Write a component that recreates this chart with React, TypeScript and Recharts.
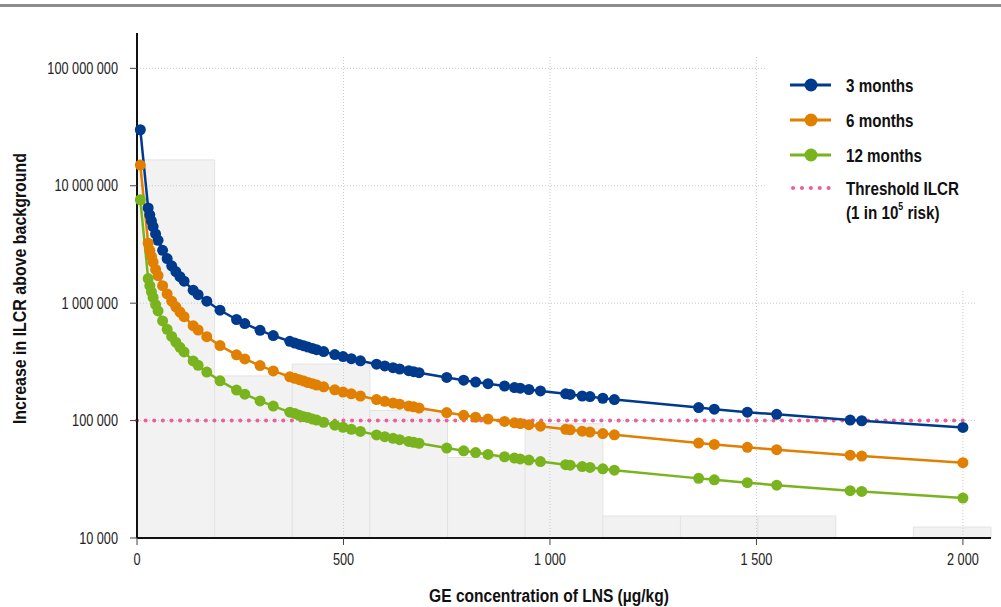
import React from 'react';
import { ComposedChart, Line, XAxis, YAxis, ReferenceLine, ReferenceArea } from 'recharts';

// GE concentration of LNS (µg/kg) at each modelled point
const concentrations = [
  8, 27, 31, 35, 39, 45, 51, 62, 73, 84, 94, 104, 114, 136, 148, 169, 201, 241, 261, 298,
  330, 370, 382, 393, 404, 414, 425, 435, 452, 479, 499, 519, 541, 580, 600, 620, 636, 658,
  670, 683, 750, 791, 820, 850, 890, 914, 928, 949, 977, 1038, 1049, 1078, 1097, 1128, 1156,
  1360, 1398, 1478, 1549, 1727, 1755, 2000,
];

const ilcr3Months = [
  30000000, 6480000, 5650000, 5000000, 4490000, 3890000, 3430000, 2820000, 2400000, 2080000,
  1860000, 1680000, 1540000, 1290000, 1180000, 1040000, 871000, 726000, 670000, 587000,
  530000, 473000, 458000, 445000, 433000, 423000, 412000, 402000, 387000, 365000, 351000,
  337000, 323000, 302000, 292000, 282000, 275000, 266000, 261000, 256000, 233000, 221000,
  213000, 206000, 197000, 191000, 189000, 184000, 179000, 169000, 167000, 162000, 160000,
  155000, 151000, 129000, 125000, 118000, 113000, 101000, 99700, 87500,
];

const ilcr6Months = [
  15000000, 3240000, 2820000, 2500000, 2240000, 1940000, 1720000, 1410000, 1200000, 1040000,
  931000, 841000, 768000, 643000, 591000, 518000, 435000, 363000, 335000, 294000,
  265000, 236000, 229000, 223000, 217000, 211000, 206000, 201000, 194000, 183000, 175000,
  169000, 162000, 151000, 146000, 141000, 138000, 133000, 131000, 128000, 117000, 111000,
  107000, 103000, 98300, 95700, 94300, 92200, 89600, 84300, 83400, 81200, 79800,
  77600, 75700, 64300, 62600, 59200, 56500, 50700, 49900, 43800,
];

const ilcr12Months = [
  7600000, 1620000, 1410000, 1250000, 1120000, 972000, 858000, 706000, 599000, 521000,
  465000, 421000, 384000, 322000, 296000, 259000, 218000, 182000, 168000, 147000,
  133000, 118000, 115000, 111000, 108000, 106000, 103000, 101000, 96800, 91300, 87700,
  84300, 80900, 75400, 72900, 70600, 68800, 66500, 65300, 64100, 58300, 55300,
  53400, 51500, 49200, 47900, 47100, 46100, 44800, 42100, 41700, 40600, 39900,
  38800, 37800, 32200, 31300, 29600, 28200, 25300, 24900, 21900,
];

// background histogram of concentrations
const binStarts = [0, 188, 376, 564, 752, 940, 1128, 1316, 1504, 1692, 1880];
const binHeights = [16600000, 240000, 303000, 122000, 48500, 94000, 15400, 15400, 15400, 0, 12400];
const binWidth = 188;

const xTicks = [0, 500, 1000, 1500, 2000];
const yTicks = [10000, 100000, 1000000, 10000000, 100000000];
const threshold = 100000;

const BLUE = '#003a8c';
const ORANGE = '#e07f00';
const GREEN = '#79b41e';
const PINK = '#ec5f9e';
const FONT = "'Liberation Sans', Arial, sans-serif";
const SQUEEZE = 0.8; // fake a condensed face, none is installed

const data = concentrations.map((x, i) => ({
  x,
  m3: ilcr3Months[i],
  m6: ilcr6Months[i],
  m12: ilcr12Months[i],
}));

const fmt = (n: number) => String(n).replace(/\B(?=(\d{3})+(?!\d))/g, ' ');

const gridStyle = { stroke: '#c9c9c9', strokeWidth: 1, strokeDasharray: '1 2' };

// condensed text: squeeze horizontally around its own anchor point
const CText = ({ x, y, sx = SQUEEZE, rotate = 0, children, ...rest }: any) => (
  <text
    transform={`translate(${x}, ${y}) rotate(${rotate}) scale(${sx}, 1)`}
    fontFamily={FONT}
    fill="#111"
    {...rest}
  >
    {children}
  </text>
);

const XTick = (props: any) => (
  <CText x={props.x} y={props.y} dy="0.71em" textAnchor="middle" fontSize={16.5} sx={0.77} fill="#222">
    {fmt(props.payload.value)}
  </CText>
);

const YTick = (props: any) => (
  <CText x={props.x} y={props.y} dominantBaseline="central" textAnchor="end" fontSize={16.5} sx={0.77} fill="#222">
    {fmt(props.payload.value)}
  </CText>
);

const Legend = () => {
  const rows = [
    { label: '3 months', color: BLUE, y: 40 },
    { label: '6 months', color: ORANGE, y: 75 },
    { label: '12 months', color: GREEN, y: 110 },
  ];
  return (
    <div style={{ position: 'absolute', left: 767, top: 45, width: 234, height: 245, background: '#fff' }}>
      <svg width={234} height={245}>
        {rows.map((r) => (
          <g key={r.label}>
            <line x1={23} x2={64} y1={r.y} y2={r.y} stroke={r.color} strokeWidth={3} />
            <circle cx={44} cy={r.y} r={6.5} fill={r.color} />
            <CText x={79} y={r.y} dominantBaseline="central" fontSize={19} fontWeight="bold">
              {r.label}
            </CText>
          </g>
        ))}
        <line x1={26} x2={62} y1={143} y2={143} stroke={PINK} strokeWidth={4} strokeDasharray="0.1 8.8" strokeLinecap="round" />
        <CText x={79} y={143} dominantBaseline="central" fontSize={19} fontWeight="bold">
          Threshold ILCR
        </CText>
        <CText x={79} y={167} dominantBaseline="central" fontSize={19} fontWeight="bold">
          (1 in 10<tspan dy={-6} fontSize={11}>5</tspan>
          <tspan dy={6}> risk)</tspan>
        </CText>
      </svg>
    </div>
  );
};

export default function App() {
  return (
    <div style={{ position: 'relative', width: 1001, height: 607, background: '#fff', fontFamily: FONT }}>
      <style>{'body{margin:0}'}</style>
      <div style={{ position: 'absolute', left: 0, top: 4, width: 1001, height: 3, background: '#8c8c8c' }} />
      <ComposedChart
        width={1001}
        height={607}
        data={data}
        margin={{ top: 33, right: 10, bottom: 0, left: 0 }}
      >
        {binStarts.map((b, i) =>
          binHeights[i] > 0 ? (
            <ReferenceArea
              key={'bin' + i}
              x1={b}
              x2={b + binWidth}
              y1={10000}
              y2={binHeights[i]}
              fill="#f2f2f2"
              fillOpacity={1}
              stroke="#e3e3e3"
              strokeWidth={1}
            />
          ) : null
        )}
        {yTicks.slice(1).map((t) => (
          <ReferenceLine key={'h' + t} segment={[{ x: 0, y: t }, { x: 2030, y: t }]} {...gridStyle} />
        ))}
        {xTicks.slice(1).map((t) => (
          <ReferenceLine key={'v' + t} segment={[{ x: t, y: 10000 }, { x: t, y: 126000000 }]} {...gridStyle} />
        ))}
        <ReferenceLine
          segment={[{ x: 0, y: threshold }, { x: 2015, y: threshold }]}
          stroke={PINK}
          strokeWidth={4}
          strokeDasharray="0.1 8.5"
          strokeLinecap="round"
        />
        <XAxis
          type="number"
          dataKey="x"
          domain={[0, 2068]}
          ticks={xTicks}
          height={69}
          tickSize={7}
          tickMargin={8}
          axisLine={{ stroke: '#111', strokeWidth: 2 }}
          tickLine={{ stroke: '#444' }}
          tick={XTick}
          label={{
            content: ({ viewBox }: any) => (
              <CText
                x={viewBox.x + viewBox.width / 2 - 15}
                y={viewBox.y + 64}
                sx={0.82}
                textAnchor="middle"
                fontSize={19}
                fontWeight="bold"
              >
                GE concentration of LNS (µg/kg)
              </CText>
            ),
          }}
        />
        <YAxis
          type="number"
          scale="log"
          domain={[10000, 200000000]}
          allowDataOverflow
          ticks={yTicks}
          width={137}
          tickSize={7}
          tickMargin={12}
          axisLine={{ stroke: '#111', strokeWidth: 2 }}
          tickLine={{ stroke: '#444' }}
          tick={YTick}
          label={{
            content: ({ viewBox }: any) => (
              <CText
                x={viewBox.x + 20}
                y={viewBox.y + viewBox.height / 2 + 3}
                rotate={-90}
                sx={0.84}
                textAnchor="middle"
                dominantBaseline="central"
                fontSize={19}
                fontWeight="bold"
              >
                Increase in ILCR above background
              </CText>
            ),
          }}
        />
        <Line
          type="linear"
          dataKey="m3"
          stroke={BLUE}
          strokeWidth={2.5}
          dot={{ r: 5.5, fill: BLUE, stroke: BLUE, strokeWidth: 0 }}
          isAnimationActive={false}
        />
        <Line
          type="linear"
          dataKey="m6"
          stroke={ORANGE}
          strokeWidth={2.5}
          dot={{ r: 5.5, fill: ORANGE, stroke: ORANGE, strokeWidth: 0 }}
          isAnimationActive={false}
        />
        <Line
          type="linear"
          dataKey="m12"
          stroke={GREEN}
          strokeWidth={2.5}
          dot={{ r: 5.5, fill: GREEN, stroke: GREEN, strokeWidth: 0 }}
          isAnimationActive={false}
        />
      </ComposedChart>
      <Legend />
    </div>
  );
}
